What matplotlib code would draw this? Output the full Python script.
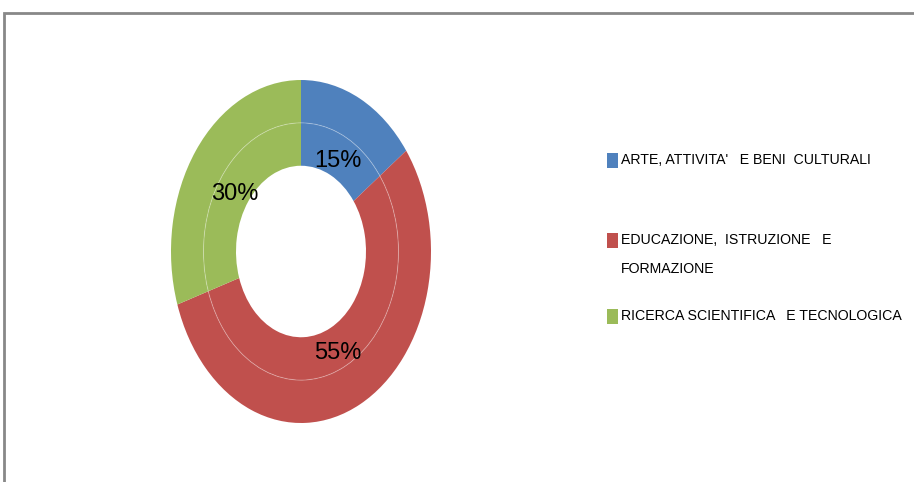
import matplotlib.pyplot as plt
from matplotlib.patches import Rectangle, Circle

# Data
categories = ["ARTE, ATTIVITA'   E BENI  CULTURALI",
              "EDUCAZIONE,  ISTRUZIONE   E\nFORMAZIONE",
              "RICERCA SCIENTIFICA   E TECNOLOGICA"]
values = [15, 55, 30]
pct_labels = ['15%', '55%', '30%']
colors = ['#4F81BD', '#C0504D', '#9BBB59']

plt.rcParams['font.family'] = ['Liberation Sans', 'DejaVu Sans']

W, H = 914, 482
fig = plt.figure(figsize=(W / 100, H / 100), dpi=100)

# axes sized so the donut comes out as an upright ellipse
ax = fig.add_axes([171 / W, (H - 423) / H, 260 / W, 343 / H])

# outer ring
ax.pie(values, radius=1.0, colors=colors, startangle=90, counterclock=False,
       wedgeprops=dict(width=0.25, linewidth=0))
# inner ring, with the percentage labels
wedges, texts = ax.pie(values, radius=0.75, colors=colors, startangle=90,
                       counterclock=False, labels=pct_labels, labeldistance=0.84,
                       wedgeprops=dict(width=0.25, linewidth=0),
                       textprops=dict(fontsize=17, color='black',
                                      ha='center', va='center_baseline'))
for t in texts:
    t.set_ha('center')
    x, y = t.get_position()
    t.set_position((x, y - 0.018))  # nudge down a few pixels

# faint line between the two rings
ax.add_patch(Circle((0, 0), 0.75, fill=False, edgecolor=(1, 1, 1, 0.3),
                    linewidth=0.7))

ax.set_aspect('auto')
ax.set_xlim(-1, 1)
ax.set_ylim(-1, 1)
ax.axis('off')

# legend drawn by hand on the right
legend_y = [160, 240, 316]
line_gap = 29
for col, lab, y in zip(colors, categories, legend_y):
    fig.add_artist(Rectangle((607 / W, 1 - (y + 8) / H), 11 / W, 15 / H,
                             transform=fig.transFigure, facecolor=col,
                             edgecolor='none'))
    for i, part in enumerate(lab.split('\n')):
        fig.text(621 / W, 1 - (y + i * line_gap) / H, part, fontsize=10.2,
                 color='black', ha='left', va='center')

# grey frame (top and left edges visible)
fig.add_artist(Rectangle((4 / W, -0.1), 1.1, 1.1 - 13 / H,
                         transform=fig.transFigure, fill=False,
                         edgecolor='#888888', linewidth=2))

plt.savefig('out.png', dpi=100)
